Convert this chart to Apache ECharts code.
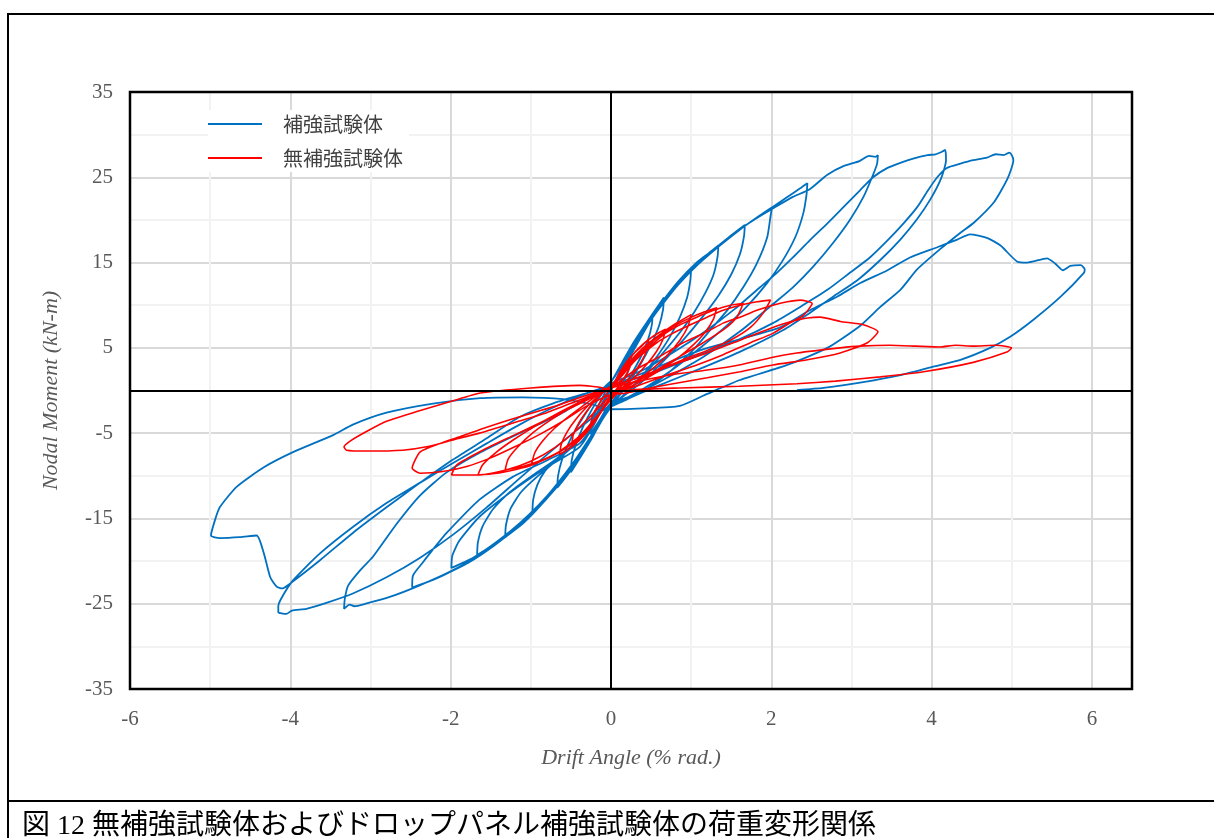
<!DOCTYPE html>
<html>
<head>
<meta charset="utf-8">
<script src="https://cdn.jsdelivr.net/npm/echarts@6/dist/echarts.min.js"></script>
<style>
  html, body { margin: 0; padding: 0; background: #fff; }
  #chart { width: 1214px; height: 838px; }
</style>
</head>
<body>
<div id="chart"></div>
<script>
// legend names
var seriesNames = ['補強試験体', '無補強試験体'];
var xTickLabels = ['-6', '-4', '-2', '0', '2', '4', '6'];
var yTickLabels = ['-35', '-25', '-15', '-5', '5', '15', '25', '35'];

// drift angle (% rad.), nodal moment (kN-m) - reinforced specimen
var reinforced = [
  [0,0],[0.06,1.2],[0.14,2.6],[0.2,3.6],[0.26,4.5],
  [0.25,3.4],[0.2,1.9],[0.12,0.4],[0.04,-1.0],
  [-0.05,-2.0],[-0.13,-3.3],[-0.2,-4.3],[-0.26,-5.1],
  [-0.25,-3.9],[-0.19,-2.4],[-0.11,-0.9],[-0.03,0.6],
  [0.06,1.8],[0.16,3.6],[0.28,5.6],[0.4,7.3],[0.52,9.0],
  [0.51,7.7],[0.46,5.9],[0.37,3.9],[0.25,1.8],[0.12,-0.2],[0.02,-1.6],
  [-0.1,-3.2],[-0.22,-5.3],[-0.36,-7.5],[-0.5,-9.6],
  [-0.49,-8.2],[-0.44,-6.4],[-0.35,-4.3],[-0.23,-2.1],[-0.1,-0.2],[0.02,1.3],
  [0.14,3.3],[0.28,5.6],[0.42,7.6],[0.55,9.4],[0.66,10.9],
  [0.65,9.5],[0.6,7.6],[0.5,5.4],[0.37,3.1],[0.22,0.9],[0.08,-0.9],[0,-1.8],
  [-0.12,-3.6],[-0.27,-6.1],[-0.43,-8.4],[-0.56,-10.1],[-0.67,-11.4],
  [-0.66,-10.0],[-0.61,-8.1],[-0.52,-6.0],[-0.39,-3.8],[-0.24,-1.6],[-0.08,0.4],[0.03,1.4],
  [0.15,3.2],[0.3,5.7],[0.48,8.3],[0.66,10.6],[0.84,12.6],[1.0,14.3],
  [0.99,12.9],[0.95,10.9],[0.86,8.6],[0.73,6.2],[0.56,3.8],[0.37,1.5],[0.18,-0.4],[0.02,-1.7],
  [-0.14,-3.9],[-0.32,-6.8],[-0.52,-9.5],[-0.72,-11.8],[-0.87,-13.2],[-0.98,-14.3],
  [-0.97,-12.8],[-0.92,-11.1],[-0.82,-9.4],[-0.66,-7.9],[-0.48,-6.4],[-0.3,-4.6],[-0.15,-2.3],[0,0.2],[0.08,1.4],
  [0.2,3.6],[0.38,6.9],[0.6,9.9],[0.84,12.8],[1.08,15.1],[1.22,16.1],[1.34,17.0],
  [1.33,15.7],[1.28,13.6],[1.18,11.5],[1.04,9.2],[0.86,6.8],[0.64,4.3],[0.42,1.9],[0.2,-0.2],[0.03,-1.6],
  [-0.16,-4.1],[-0.38,-7.3],[-0.62,-10.6],[-0.88,-13.5],[-1.1,-15.6],[-1.32,-17.2],
  [-1.31,-15.8],[-1.25,-13.8],[-1.12,-11.9],[-0.92,-10.1],[-0.7,-8.4],[-0.47,-6.5],[-0.28,-4.3],[-0.13,-1.9],[0.01,0.6],[0.1,1.6],
  [0.24,4.0],[0.45,7.6],[0.7,10.8],[0.98,13.9],[1.24,16.2],[1.46,17.9],[1.67,19.4],
  [1.66,18.1],[1.61,16.0],[1.5,13.6],[1.34,11.1],[1.14,8.6],[0.9,5.9],[0.64,3.3],[0.36,0.8],[0.12,-0.9],[0,-1.7],
  [-0.18,-4.4],[-0.42,-8.0],[-0.7,-11.6],[-1.0,-14.5],[-1.3,-16.9],[-1.5,-18.3],[-1.67,-19.3],
  [-1.66,-17.8],[-1.6,-15.9],[-1.47,-13.9],[-1.26,-11.9],[-1.0,-10.1],[-0.72,-8.3],[-0.46,-6.3],[-0.25,-3.9],[-0.1,-1.3],[0.04,0.9],
  [0.18,3.4],[0.42,7.5],[0.72,11.2],[1.02,14.2],[1.32,16.7],[1.6,18.8],[1.82,20.3],[2.01,21.5],
  [1.99,20.4],[1.95,18.0],[1.82,14.9],[1.65,12.1],[1.45,9.4],[1.24,7.1],[1.02,4.7],[0.72,2.1],[0.4,-0.1],[0.14,-1.3],[0,-1.9],
  [-0.2,-4.7],[-0.48,-8.6],[-0.8,-12.4],[-1.12,-15.4],[-1.42,-17.7],[-1.72,-19.6],[-1.99,-20.8],
  [-1.98,-19.4],[-1.89,-17.6],[-1.64,-14.8],[-1.22,-11.7],[-0.8,-9.0],[-0.39,-6.6],[-0.2,-3.8],[-0.06,-0.9],[0.06,1.1],
  [0.22,3.9],[0.5,8.3],[0.8,12.0],[1.1,14.9],[1.4,17.4],[1.7,19.5],[2.0,21.4],[2.2,22.7],[2.36,23.7],[2.45,24.3],
  [2.44,23.0],[2.4,20.8],[2.3,18.0],[2.14,15.2],[1.94,12.5],[1.7,9.9],[1.42,7.4],[1.1,4.9],[0.76,2.4],[0.42,0.3],[0.15,-1.1],[0,-1.8],
  [-0.22,-5.0],[-0.5,-9.2],[-0.82,-12.9],[-1.14,-15.8],[-1.46,-18.2],[-1.78,-20.2],[-2.1,-21.7],[-2.3,-22.5],[-2.48,-23.1],
  [-2.47,-21.7],[-2.35,-20.2],[-2.2,-18.4],[-2.05,-16.7],[-1.64,-12.8],[-1.22,-10.1],[-0.8,-8.2],[-0.39,-6.2],[-0.2,-3.6],[-0.05,-0.6],[0.08,1.2],
  [0.24,4.0],[0.52,8.6],[0.84,12.4],[1.18,15.6],[1.52,18.3],[1.8,20.1],[2.03,21.4],[2.27,22.7],[2.48,23.6],[2.7,25.3],[2.9,26.3],[3.1,26.9],[3.22,27.5],[3.3,27.4],[3.33,27.6],
  [3.32,26.6],[3.27,25.3],[3.15,22.7],[2.98,20.0],[2.77,17.3],[2.52,14.5],[2.27,12.1],[2.03,10.2],[1.62,7.0],[1.16,4.0],[0.7,1.5],[0.3,-0.5],[0,-1.6],
  [-0.24,-5.2],[-0.56,-9.7],[-0.9,-13.4],[-1.26,-16.6],[-1.62,-19.2],[-2.0,-21.2],[-2.4,-22.9],[-2.76,-24.2],[-3.06,-25.0],[-3.2,-25.3],[-3.26,-25.1],[-3.33,-25.6],
  [-3.32,-24.4],[-3.28,-22.9],[-3.13,-21.1],[-2.97,-19.5],[-2.67,-15.6],[-2.38,-12.3],[-2.05,-9.6],[-1.62,-7.2],[-1.14,-5.0],[-0.66,-2.9],[-0.28,-0.8],[0,0.8],
  [0.4,2.4],[0.8,4.6],[1.2,7.1],[1.55,9.6],[1.86,12.1],[2.07,13.8],[2.27,15.6],[2.48,17.6],[2.7,19.6],[2.9,21.5],[3.11,23.5],[3.27,25.0],[3.45,26.1],[3.61,26.7],[3.77,27.2],[3.95,27.6],[4.05,27.7],[4.13,28.0],[4.17,28.2],
  [4.18,27.0],[4.12,24.9],[3.99,22.5],[3.82,20.1],[3.61,17.7],[3.36,15.3],[3.07,12.9],[2.77,11.0],[2.48,9.1],[2.15,7.1],[1.6,4.5],[1.1,2.5],[0.6,0.6],[0.25,-0.8],[0,-1.9],
  [-0.12,-2.4],[-0.34,-4.0],[-0.72,-6.9],[-1.14,-10.3],[-1.55,-13.7],[-1.97,-16.9],[-2.38,-19.6],[-2.8,-21.9],[-3.22,-23.8],[-3.55,-24.9],[-3.8,-25.6],[-3.98,-25.8],[-4.05,-26.2],[-4.15,-26.0],
  [-4.15,-25.3],[-4.12,-24.5],[-3.97,-22.3],[-3.63,-19.1],[-3.22,-16.0],[-2.8,-13.2],[-2.38,-10.8],[-1.97,-8.5],[-1.55,-6.2],[-1.14,-4.0],[-0.72,-2.0],[-0.32,-0.4],[0,0.6],
  [0.49,1.9],[1.11,4.2],[1.6,6.0],[2.02,7.9],[2.36,9.8],[2.7,11.8],[2.98,13.8],[3.23,15.6],[3.45,17.6],[3.65,19.6],[3.82,21.5],[3.95,23.4],[4.07,25.0],[4.19,26.1],[4.36,26.6],[4.52,27.0],[4.69,27.3],[4.8,27.7],[4.9,27.6],[4.97,27.9],[5.0,27.6],[5.02,27.0],
  [4.95,24.9],[4.78,22.1],[4.53,19.7],[4.36,18.5],[4.11,16.6],[3.82,14.2],[3.61,11.8],[3.36,9.8],[3.11,7.6],[2.7,5.0],[2.2,3.0],[1.6,1.2],[1.2,-0.4],[0.86,-1.8],[0.4,-2.1],[0,-2.2],
  [-0.25,-1.6],[-0.6,-1.0],[-1.1,-0.8],[-1.63,-0.9],[-2.2,-1.5],[-2.8,-2.6],[-3.22,-4.0],[-3.46,-5.2],[-3.96,-7.2],[-4.33,-9.0],[-4.67,-11.3],[-4.88,-13.7],[-4.94,-15.2],[-4.99,-17.0],
  [-4.88,-17.3],[-4.63,-17.2],[-4.42,-17.0],[-4.33,-19.1],[-4.25,-21.9],[-4.17,-23.0],[-4.1,-23.2],[-3.97,-22.4],
  [-3.63,-19.9],[-3.22,-16.7],[-2.8,-13.7],[-2.38,-10.8],[-1.97,-8.1],[-1.55,-5.6],[-1.14,-3.1],[-0.72,-1.5],[-0.3,-0.3],[0,0.5],
  [0.49,2.4],[1.11,4.7],[1.6,6.0],[2.11,7.4],[2.48,9.4],[2.82,11.0],[3.11,12.6],[3.45,14.1],[3.73,15.6],[4.07,16.8],[4.32,17.7],[4.48,18.3],
  [4.69,17.9],[4.86,17.0],[5.07,15.1],[5.19,15.0],[5.44,15.5],[5.54,14.9],[5.64,14.1],[5.73,14.6],[5.86,14.7],[5.91,14.2],[5.9,13.8],
  [5.61,11.0],[5.27,8.3],[4.98,6.3],[4.73,5.0],[4.36,3.6],[4.02,2.8],[3.61,1.8],[3.28,1.2],[2.65,0.3],[2.32,0.05]
];

// drift angle (% rad.), nodal moment (kN-m) - unreinforced specimen
var unreinforced = [
  [0,0],[0.08,1.4],[0.16,2.6],[0.25,3.6],
  [0.23,2.6],[0.16,1.4],[0.08,0.3],[0,-0.7],
  [-0.08,-1.7],[-0.16,-2.9],[-0.25,-4.0],
  [-0.23,-2.9],[-0.15,-1.6],[-0.06,-0.4],[0.02,0.5],
  [0.12,2.3],[0.24,3.9],[0.36,5.0],[0.47,6.0],
  [0.45,4.8],[0.38,3.4],[0.28,2.0],[0.16,0.8],[0.04,-0.3],
  [-0.08,-1.8],[-0.2,-3.5],[-0.34,-5.1],[-0.49,-6.4],
  [-0.47,-5.2],[-0.4,-3.8],[-0.3,-2.4],[-0.18,-1.0],[-0.05,0.2],[0.04,0.8],
  [0.16,2.7],[0.3,4.5],[0.46,5.9],[0.6,6.8],[0.68,7.2],
  [0.65,6.0],[0.57,4.6],[0.45,3.1],[0.3,1.6],[0.14,0.3],[0.02,-0.6],
  [-0.1,-2.2],[-0.24,-4.2],[-0.4,-5.9],[-0.55,-7.0],[-0.64,-7.5],
  [-0.62,-6.3],[-0.55,-4.9],[-0.44,-3.4],[-0.3,-1.9],[-0.15,-0.6],[0,0.5],
  [0.2,3.0],[0.4,5.0],[0.6,6.5],[0.8,7.8],[1.0,8.9],
  [0.96,7.5],[0.86,5.9],[0.72,4.3],[0.55,2.8],[0.36,1.4],[0.16,0.2],[0.02,-0.6],
  [-0.14,-2.6],[-0.32,-4.8],[-0.52,-6.5],[-0.74,-7.7],[-0.99,-8.6],
  [-0.95,-7.3],[-0.85,-5.9],[-0.7,-4.4],[-0.52,-3.0],[-0.32,-1.6],[-0.12,-0.2],[0.02,0.6],
  [0.25,3.3],[0.5,5.6],[0.74,7.3],[0.96,8.4],[1.16,9.2],[1.32,9.7],
  [1.28,8.4],[1.18,6.9],[1.02,5.3],[0.82,3.7],[0.58,2.2],[0.32,0.8],[0.08,-0.3],
  [-0.12,-2.4],[-0.34,-4.9],[-0.58,-6.8],[-0.84,-8.1],[-1.1,-8.9],[-1.32,-9.3],
  [-1.28,-8.0],[-1.16,-6.6],[-0.98,-5.0],[-0.76,-3.5],[-0.5,-2.0],[-0.24,-0.7],[0,0.4],
  [0.3,3.6],[0.65,6.5],[0.86,7.7],[1.07,8.6],[1.28,9.4],[1.49,10.0],[1.65,10.2],
  [1.57,8.6],[1.4,7.1],[1.15,5.6],[0.86,4.0],[0.57,2.4],[0.28,1.0],[0.04,-0.2],
  [-0.14,-2.6],[-0.4,-5.4],[-0.7,-7.5],[-1.0,-8.8],[-1.3,-9.5],[-1.5,-9.8],[-1.66,-9.9],
  [-1.6,-8.7],[-1.44,-7.3],[-1.22,-5.8],[-0.95,-4.2],[-0.65,-2.6],[-0.34,-1.1],[-0.06,0.2],[0.03,0.6],
  [0.3,3.5],[0.57,5.6],[0.77,6.7],[0.99,7.7],[1.2,8.6],[1.4,9.4],[1.61,10.0],[1.82,10.4],[1.99,10.6],
  [1.9,9.1],[1.74,7.4],[1.49,5.9],[1.2,4.7],[0.9,3.6],[0.61,2.4],[0.3,1.0],[0.04,-0.2],
  [-0.15,-2.0],[-0.4,-4.4],[-0.7,-6.7],[-1.0,-8.3],[-1.3,-9.3],[-1.64,-9.9],[-1.85,-9.9],[-1.99,-9.9],
  [-1.92,-8.7],[-1.6,-7.0],[-1.2,-5.2],[-0.8,-3.4],[-0.4,-1.6],[-0.08,0.0],[0.03,0.5],
  [0.3,2.4],[0.61,4.0],[0.9,5.6],[1.2,6.9],[1.4,7.9],[1.61,8.6],[1.82,9.4],[2.02,10.0],[2.2,10.4],[2.36,10.6],[2.51,10.2],
  [2.4,8.8],[2.23,7.9],[2.02,6.7],[1.74,5.6],[1.4,4.2],[1.07,3.0],[0.7,1.8],[0.34,0.6],[0.04,-0.3],
  [-0.3,-1.8],[-0.6,-3.6],[-0.9,-5.2],[-1.2,-6.6],[-1.5,-7.9],[-1.8,-8.9],[-2.1,-9.5],[-2.38,-9.7],[-2.48,-9.1],
  [-2.38,-7.2],[-2.13,-6.2],[-1.85,-5.3],[-1.55,-4.3],[-1.15,-3.1],[-0.72,-1.9],[-0.35,-0.7],[0,0.4],
  [0.3,1.4],[0.8,3.1],[1.2,4.4],[1.61,5.9],[2.02,7.4],[2.3,8.2],[2.45,8.5],[2.61,8.6],[2.86,8.1],[3.15,7.7],[3.33,6.9],
  [3.2,5.6],[2.86,4.4],[2.45,3.6],[2.02,3.0],[1.61,2.2],[1.2,1.5],[0.6,0.5],[0.1,-0.4],
  [-0.1,0.3],[-0.39,0.6],[-1.0,0.3],[-1.63,-0.3],[-2.0,-1.3],[-2.4,-2.4],[-2.8,-3.6],[-3.05,-4.8],[-3.25,-5.9],[-3.33,-6.6],
  [-3.3,-7.0],[-3.04,-7.1],[-2.6,-7.0],[-2.3,-6.6],[-1.97,-5.8],[-1.64,-5.0],[-1.22,-3.8],[-0.8,-2.6],[-0.39,-1.1],[0,0.3],
  [0.4,1.2],[0.8,1.9],[1.2,2.4],[1.6,3.0],[2.02,3.9],[2.32,4.4],[2.86,5.0],[3.1,5.2],[3.48,5.3],[3.8,5.2],[4.1,5.1],[4.3,5.3],[4.52,5.2],[4.8,5.3],[5.0,5.0],
  [4.94,4.5],[4.52,3.3],[3.9,2.2],[3.36,1.6],[2.8,1.1],[2.32,0.8],[1.6,0.5],[0.86,0.3],[0.3,0.1],[0,-0.3]
];

var chart = echarts.init(document.getElementById('chart'));
var serif = '"Liberation Serif", "Times New Roman", serif';
var tickGray = '#595959';

var option = {
  animation: false,
  backgroundColor: '#fff',
  grid: {
    left: 130, right: 82, top: 92, bottom: 149,
    show: false
  },
  legend: {
    data: seriesNames,
    orient: 'vertical',
    left: 208, top: 110,
    icon: 'rect', itemWidth: 54, itemHeight: 2, itemGap: 14,
    backgroundColor: '#fff',
    padding: [4, 6, 4, 0],
    textStyle: { fontSize: 20, fontFamily: '"Noto Sans CJK JP"', color: '#404040', padding: [0, 0, 0, 16] }
  },
  xAxis: {
    type: 'value', min: -6, max: 6.5, interval: 1,
    name: 'Drift Angle (% rad.)', nameLocation: 'middle', nameGap: 58,
    nameTextStyle: { fontFamily: serif, fontStyle: 'italic', fontSize: 22, color: tickGray },
    axisLine: { onZero: false, show: false },
    axisTick: { show: false },
    axisLabel: {
      margin: 20, fontFamily: serif, fontSize: 21, color: tickGray, showMaxLabel: false,
      formatter: function (v) { var i = xTickLabels.indexOf(String(v)); return i >= 0 ? xTickLabels[i] : ''; }
    },
    splitLine: { show: true, lineStyle: { color: ['#d9d9d9', '#f2f2f2'], width: 2 } }
  },
  yAxis: {
    type: 'value', min: -35, max: 35, interval: 5,
    name: 'Nodal Moment (kN-m)', nameLocation: 'middle', nameGap: 68, nameRotate: 90,
    nameTextStyle: { fontFamily: serif, fontStyle: 'italic', fontSize: 22, color: tickGray },
    axisLine: { onZero: false, show: false },
    axisTick: { show: false },
    axisLabel: {
      margin: 17, fontFamily: serif, fontSize: 21, color: tickGray,
      formatter: function (v) { var i = yTickLabels.indexOf(String(v)); return i >= 0 ? yTickLabels[i] : ''; }
    },
    splitLine: { show: true, lineStyle: { color: ['#d9d9d9', '#f2f2f2'], width: 2 } }
  },
  series: [
    {
      name: 'zero', type: 'line', data: [], z: 1, silent: true,
      markLine: {
        silent: true, symbol: 'none', label: { show: false },
        lineStyle: { color: '#000', width: 2, type: 'solid' },
        data: [{ xAxis: 0 }, { yAxis: 0 }]
      }
    },
    {
      name: seriesNames[0], type: 'line', data: reinforced, z: 3,
      showSymbol: false, symbol: 'none', smooth: 0.2,
      itemStyle: { color: '#0070C0' },
      lineStyle: { color: '#0070C0', width: 1.8 }
    },
    {
      name: seriesNames[1], type: 'line', data: unreinforced, z: 4,
      showSymbol: false, symbol: 'none', smooth: 0.2,
      itemStyle: { color: '#FF0000' },
      lineStyle: { color: '#FF0000', width: 1.6 }
    }
  ],
  graphic: [
    { type: 'rect', z: 100, shape: { x: 130, y: 92, width: 1002, height: 597 }, style: { fill: 'none', stroke: '#000', lineWidth: 2.5 }, silent: true },
    { type: 'rect', shape: { x: 8, y: 14, width: 1220, height: 840 }, style: { fill: 'none', stroke: '#000', lineWidth: 2 }, silent: true },
    { type: 'line', shape: { x1: 8, y1: 801, x2: 1214, y2: 801 }, style: { stroke: '#000', lineWidth: 2 }, silent: true },
    { type: 'text', x: 22, y: 827, style: { text: '図 12 無補強試験体およびドロップパネル補強試験体の荷重変形関係', fontSize: 28, fontFamily: '"Liberation Serif", "Noto Sans CJK JP"', fill: '#000', verticalAlign: 'middle' }, silent: true }
  ]
};
chart.setOption(option);
</script>
</body>
</html>
